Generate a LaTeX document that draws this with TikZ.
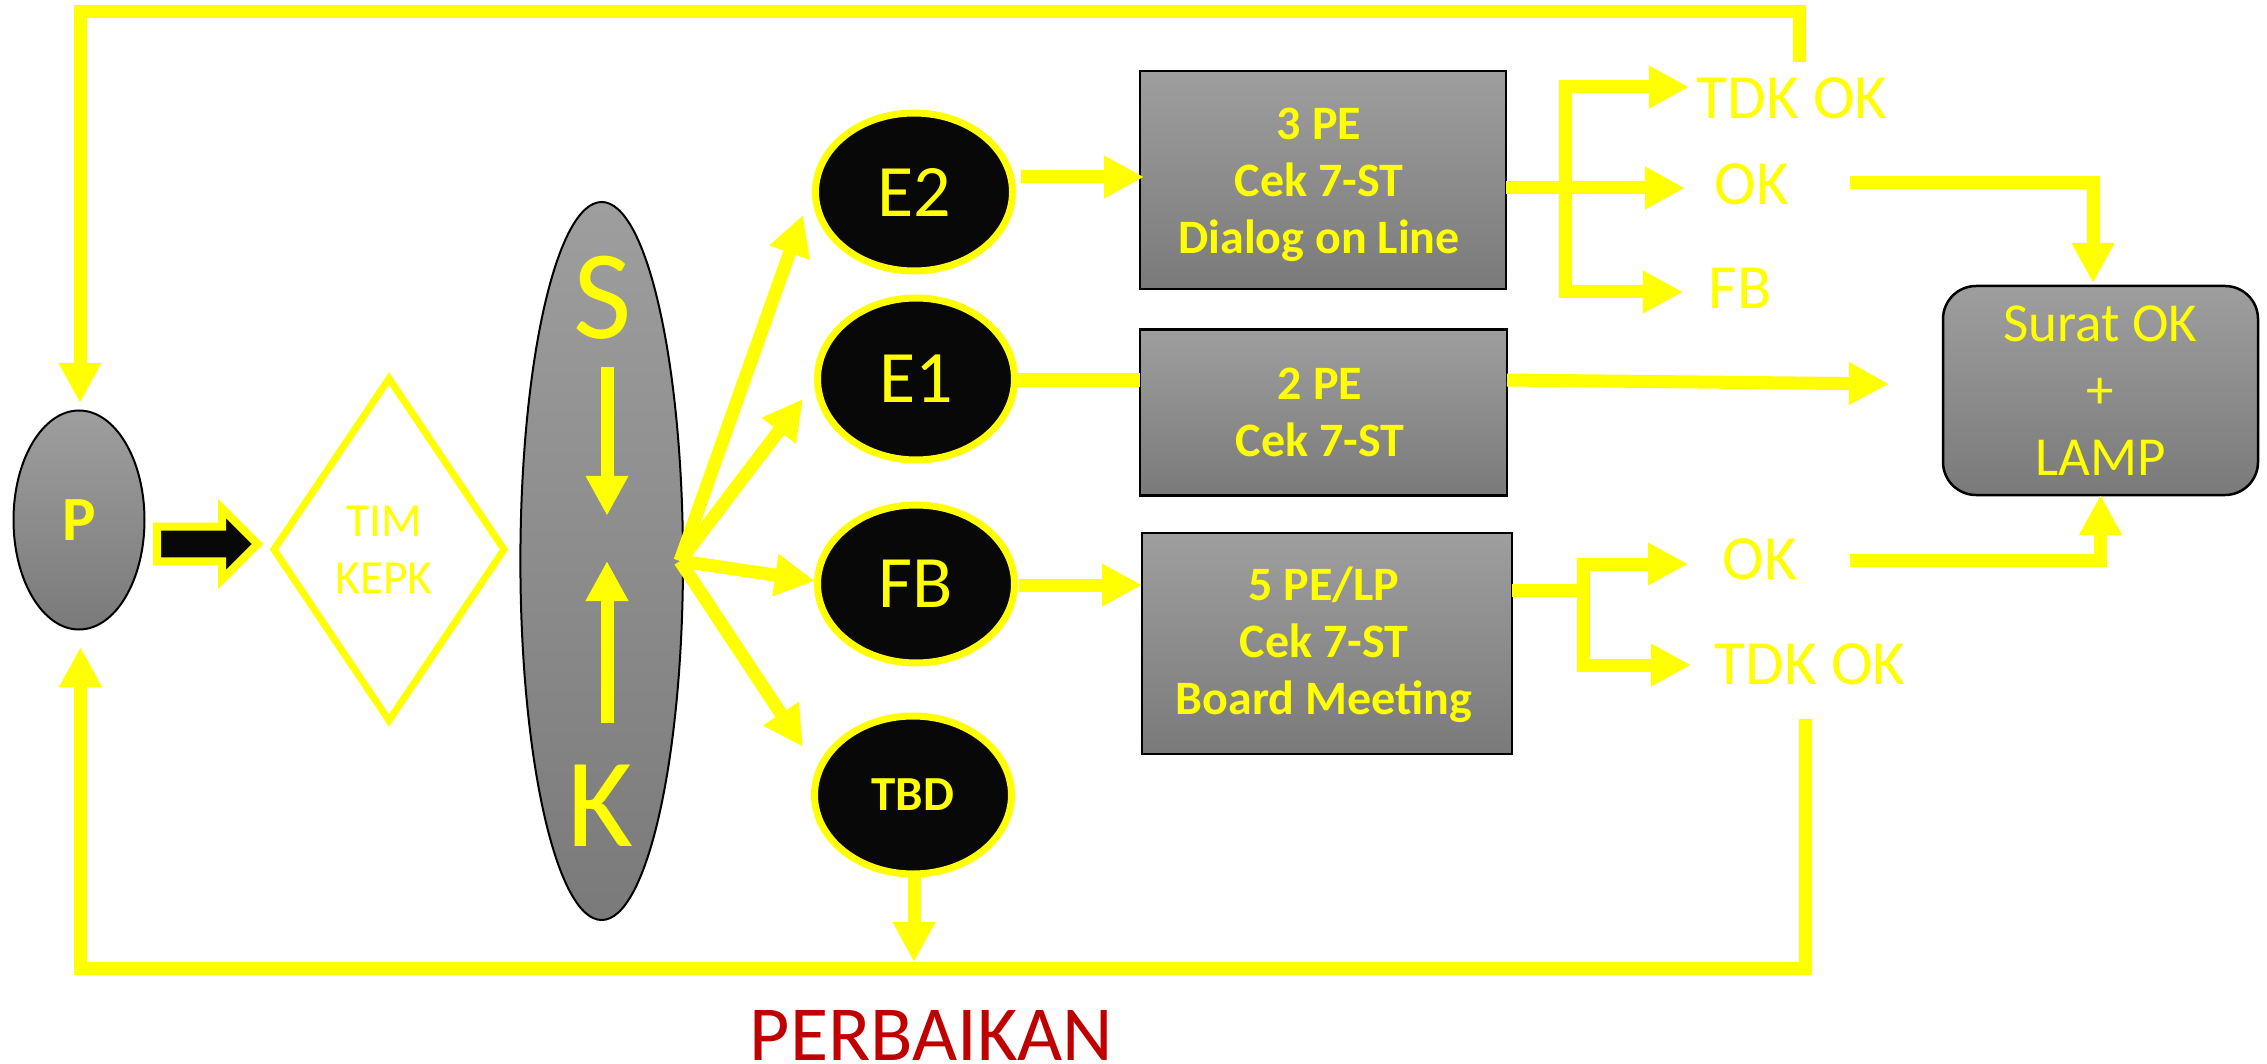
\documentclass[tikz,border=0pt]{standalone}
\usepackage{fontspec}
\setmainfont{Carlito}
\usetikzlibrary{shapes.geometric,arrows.meta}
\definecolor{yel}{HTML}{FFFF00}
\definecolor{blk}{HTML}{080808}
\definecolor{gtop}{HTML}{9E9E9E}
\definecolor{gbot}{HTML}{7A7A7A}
\definecolor{dred}{HTML}{C00000}
\begin{document}
\begin{tikzpicture}[x=1pt,y=-1pt,
  conn/.style={draw=yel,line width=13pt},
  arr/.style={conn,-{Triangle[length=40pt,width=40pt]}},
  gshade/.style={draw=black,top color=gtop,bottom color=gbot,inner sep=0pt,outer sep=0pt},
  gbox/.style={gshade,rectangle,line width=2.5pt},
  eell/.style={ellipse,fill=blk,draw=yel,line width=7pt,minimum width=197pt,minimum height=158pt,
    inner sep=0pt,outer sep=0pt,text=yel,font=\fontsize{74}{80}\selectfont},
  lab/.style={text=yel,inner sep=0pt,outer sep=0pt,font=\fontsize{63}{70}\selectfont},
  btxt/.style={text=yel,inner sep=0pt,outer sep=0pt,align=center,font=\bfseries\fontsize{48}{57}\selectfont}]
\fill[white] (0,0) rectangle (2267,1064);
\useasboundingbox (0,0) rectangle (2267,1064);

% P node
\node[gshade,ellipse,line width=2pt,minimum width=131pt,minimum height=219pt,
  text=yel,font=\bfseries\fontsize{63}{70}\selectfont] (P) at (79,520) {P};

% feedback loops
\draw[arr] (1799,62) -- (1799,12) -- (80,12) -- (80,403);
\draw[arr] (1805,719) -- (1805,968) -- (80.5,968) -- (80.5,647);

% block arrow P -> TIM KEPK
\draw[draw=yel,fill=blk,line width=8pt] (157,526.7) -- (222,526.7) -- (222,508.4) -- (257.6,544)
  -- (222,579.6) -- (222,561.3) -- (157,561.3) -- cycle;

% diamond TIM KEPK
\node[text=yel,align=center,inner sep=0pt,font=\fontsize{47.5}{57}\selectfont] (tim) at (384,549.5) {TIM\\KEPK};
\draw[draw=yel,line width=7pt] (274,549.5) -- (389,378.5) -- (504,549.5) -- (389,720.5) -- cycle;

% SK ellipse
\node[gshade,ellipse,line width=2pt,minimum width=162.6pt,minimum height=718pt] (sk) at (601.7,561) {};
\node[text=yel,inner sep=0pt,font=\fontsize{127}{130}\selectfont] (S) at (602.5,298) {S};
\node[text=yel,inner sep=0pt,font=\fontsize{127}{130}\selectfont] (K) at (600,806) {K};
\draw[arr] (607,366.7) -- (607,515.8);
\draw[arr] (607,723) -- (607,561);

% fan
\coordinate (fan) at (680,561);
\draw[arr] (fan) -- (803,215);
\draw[arr] (fan) -- (803,399);
\draw[arr] (fan) -- (815,581);
\draw[arr] (fan) -- (803,747);

% ellipses
\node[eell] (E2) at (914,192) {E2};
\node[eell,minimum height=162pt] (E1) at (916,379) {E1};
\node[eell] (FB) at (916,584) {FB};
\node[eell,font=\bfseries\fontsize{49}{55}\selectfont] (TBD) at (913,795) {TBD};

% boxes
\node[gbox,minimum width=366pt,minimum height=218pt] (B3) at (1323,180) {};
\node[btxt] (T3) at (1319,185) {3 PE\\Cek 7-ST\\Dialog on Line};
\node[gbox,minimum width=367pt,minimum height=166pt] (B2) at (1323.5,412.4) {};
\node[btxt] (T2) at (1320,412) {2 PE\\Cek 7-ST};
\node[gbox,minimum width=370pt,minimum height=221pt] (B5) at (1327,643.5) {};
\node[btxt] (T5) at (1324,645) {5 PE/LP\\Cek 7-ST\\Board Meeting};

% E -> boxes
\draw[arr] (1021,177) -- (1144,177);
\draw[conn] (1016,380) -- (1140,380);
\draw[arr] (1019,585) -- (1142,585);
\draw[arr] (914,877) -- (914,962);

% upper bracket
\draw[conn] (1506,188) -- (1565,188);
\draw[conn] (1565,80.5) -- (1565,298.5);
\draw[arr] (1558.5,87) -- (1689,87);
\draw[arr] (1558.5,188) -- (1685,188);
\draw[arr] (1558.5,292) -- (1683,292);
\node[lab] (tdk1) at (1792,98) {TDK OK};
\node[lab] (ok1) at (1752,184) {OK};
\node[lab] (fb1) at (1740,288) {FB};

% Surat box
\node[gbox,rounded corners=33pt,minimum width=315pt,minimum height=209pt,text=yel,align=center,
  font=\fontsize{55}{66.7}\selectfont] (surat) at (2100.5,390.5) {Surat OK\\+\\LAMP};
\draw[arr] (1850,183) -- (2093,183) -- (2093,283);
\draw[arr] (1507,380) -- (1889,384);

% lower bracket
\draw[conn] (1512,590) -- (1583,590);
\draw[conn] (1583,557.5) -- (1583,671.5);
\draw[arr] (1576.5,564) -- (1688,564);
\draw[arr] (1576.5,665) -- (1691,665);
\node[lab] (ok2) at (1760,559) {OK};
\node[lab] (tdk2) at (1810,664) {TDK OK};
\draw[arr] (1850,560) -- (2100.5,560) -- (2100.5,495);

% label
\node[text=dred,inner sep=0pt,font=\fontsize{78}{80}\selectfont] (perb) at (931.4,1035.4) {PERBAIKAN};
\end{tikzpicture}
\end{document}
